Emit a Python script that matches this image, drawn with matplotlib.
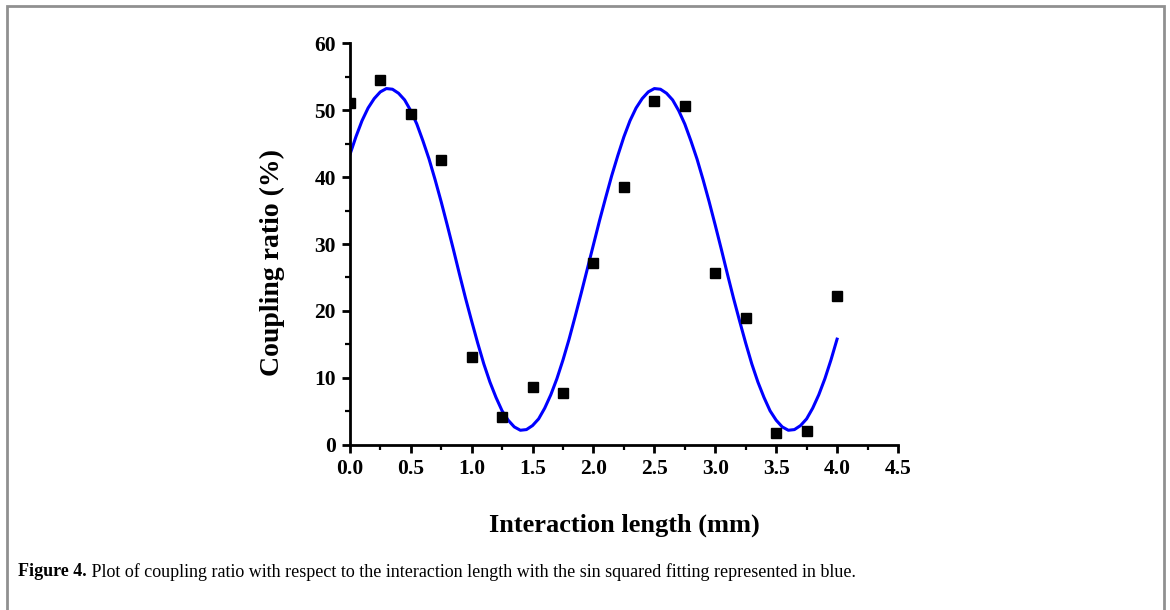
import matplotlib
matplotlib.use("Agg")
import matplotlib.pyplot as plt
from matplotlib.patches import Rectangle
from matplotlib.ticker import MultipleLocator

# --- measured points (coupling ratio %) ---
length_mm = [0.0, 0.25, 0.5, 0.75, 1.0, 1.25, 1.5, 1.75, 2.0,
             2.25, 2.5, 2.75, 3.0, 3.25, 3.5, 3.75, 4.0]
coupling = [51.1, 54.5, 49.4, 42.6, 13.2, 4.2, 8.6, 7.7, 27.1,
            38.5, 51.3, 50.6, 25.7, 19.0, 1.8, 2.1, 22.2]

# --- sin^2 fit curve, every 0.05 mm ---
fit_x = [i / 20 for i in range(81)]
fit_y = [43.3, 46.0, 48.4, 50.3, 51.7, 52.7, 53.2, 53.1, 52.5, 51.5,
         49.9, 47.9, 45.4, 42.7, 39.6, 36.3, 32.8, 29.2, 25.5, 21.9,
         18.5, 15.2, 12.1, 9.4, 7.1, 5.1, 3.7, 2.7, 2.2, 2.3,
         2.9, 3.9, 5.5, 7.5, 9.9, 12.7, 15.8, 19.2, 22.7, 26.3,
         29.9, 33.5, 36.9, 40.2, 43.2, 46.0, 48.4, 50.3, 51.7, 52.7,
         53.2, 53.1, 52.5, 51.5, 49.9, 47.9, 45.4, 42.7, 39.6, 36.3,
         32.8, 29.2, 25.5, 21.9, 18.5, 15.2, 12.1, 9.4, 7.1, 5.1,
         3.7, 2.7, 2.2, 2.3, 2.9, 3.9, 5.5, 7.5, 9.9, 12.7, 15.8]

x_ticks = [0.0, 0.5, 1.0, 1.5, 2.0, 2.5, 3.0, 3.5, 4.0, 4.5]
y_ticks = [0, 10, 20, 30, 40, 50, 60]

caption_bold = "Figure 4."
caption_rest = (" Plot of coupling ratio with respect to the interaction length "
                "with the sin squared fitting represented in blue.")

plt.rcParams['font.family'] = ['Liberation Serif', 'DejaVu Serif']

fig = plt.figure(figsize=(11.7, 6.1), dpi=100)
ax = fig.add_axes([0.299, 0.2705, 0.4685, 0.659])

ax.plot(fit_x, fit_y, color='#0000ff', linewidth=2.2, zorder=2)
ax.plot(length_mm, coupling, linestyle='none', marker='s', markersize=7,
        color='black', zorder=3)

ax.set_xlim(0, 4.5)
ax.set_ylim(0, 60)
ax.set_xticks(x_ticks)
ax.set_yticks(y_ticks)
ax.xaxis.set_minor_locator(MultipleLocator(0.25))
ax.yaxis.set_minor_locator(MultipleLocator(5))
ax.set_xticklabels([f"{v:.1f}" for v in x_ticks])

for side in ['top', 'right']:
    ax.spines[side].set_visible(False)
for side in ['left', 'bottom']:
    ax.spines[side].set_linewidth(2.0)

ax.tick_params(which='major', direction='out', length=6, width=2.0,
               labelsize=15.5, pad=4)
ax.tick_params(which='minor', direction='out', length=3.5, width=1.6)
for lab in ax.get_xticklabels() + ax.get_yticklabels():
    lab.set_fontweight('bold')

ax.set_ylabel("Coupling ratio (%)", fontsize=20, fontweight='bold')
ax.yaxis.set_label_coords(-0.118, 0.455)
ax.set_xlabel("Interaction length (mm)", fontsize=19, fontweight='bold', labelpad=25)

# frame around the figure
fig.patches.append(Rectangle((7 / 1170, -0.05), (1164 - 7) / 1170, 1.05 - 6 / 610,
                             transform=fig.transFigure, fill=False,
                             edgecolor='#909090', linewidth=2.0))

# caption: bold "Figure 4." followed by regular text
t1 = fig.text(18 / 1170, 1 - 572 / 610, caption_bold, fontsize=13,
              fontweight='bold', va='center', ha='left')
r = fig.canvas.get_renderer()
bb = t1.get_window_extent(renderer=r)
fig.text(bb.x1 / fig.bbox.width, 1 - 572 / 610, caption_rest, fontsize=13,
         va='center', ha='left')

fig.savefig("out.png", dpi=100)
